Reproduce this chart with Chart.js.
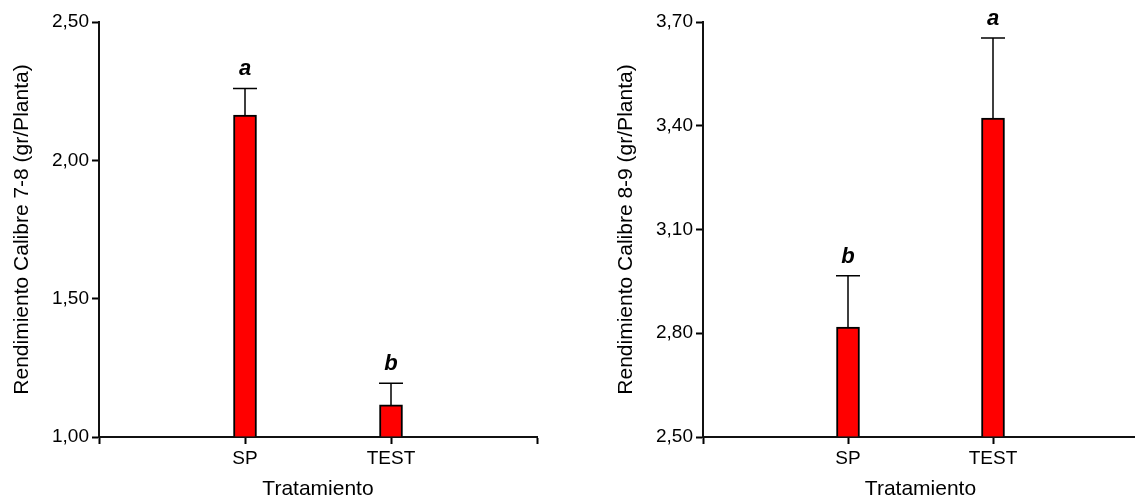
<!DOCTYPE html>
<html lang="es">
<head>
    <meta charset="UTF-8">
    <title>Rendimiento por calibre</title>
    <script src="https://cdn.jsdelivr.net/npm/chart.js"></script>
    <style>
        html, body {
            margin: 0;
            padding: 0;
            background: #fff;
            width: 1135px;
            height: 502px;
            overflow: hidden;
        }
        canvas {
            position: absolute;
            top: 0;
        }
        #chartLeft { left: 0; }
        #chartRight { left: 567px; }
    </style>
</head>
<body>
    <canvas id="chartLeft" width="567" height="502"></canvas>
    <canvas id="chartRight" width="574" height="502"></canvas>

    <script>
        // categories (empty labels at both ends give the axis its length)
        const categories = ["", "SP", "TEST", ""];

        // Calibre 7-8
        const meansLeft = [null, 2.164, 1.116, null];
        const errLeft = [null, 0.096, 0.078, null];
        const lettersLeft = [null, "a", "b", null];
        const ticksLeft = [1.0, 1.5, 2.0, 2.5];

        // Calibre 8-9
        const meansRight = [null, 2.818, 3.422, null];
        const errRight = [null, 0.148, 0.232, null];
        const lettersRight = [null, "b", "a", null];
        const ticksRight = [2.5, 2.8, 3.1, 3.4, 3.7];

        const FONT = "'Liberation Sans', Arial, sans-serif";

        // error bars + significance letters on top of each bar
        const errorBarPlugin = {
            id: "errorBars",
            afterDatasetsDraw(chart, args, opts) {
                const ctx = chart.ctx;
                const xs = chart.scales.x;
                const ys = chart.scales.y;
                ctx.save();
                opts.means.forEach((m, i) => {
                    if (m === null) return;
                    const x = xs.getPixelForValue(i);
                    const yBar = ys.getPixelForValue(m);
                    const yTop = ys.getPixelForValue(m + opts.err[i]);
                    ctx.strokeStyle = "#000";
                    ctx.lineWidth = 1.5;
                    ctx.beginPath();
                    ctx.moveTo(x, yBar);
                    ctx.lineTo(x, yTop);
                    ctx.moveTo(x - 12, yTop);
                    ctx.lineTo(x + 12, yTop);
                    ctx.stroke();

                    ctx.fillStyle = "#000";
                    ctx.font = "italic bold 22px " + FONT;
                    ctx.textAlign = "center";
                    ctx.textBaseline = "alphabetic";
                    ctx.fillText(opts.letters[i], x, yTop - 13);
                });
                ctx.restore();
            }
        };

        function makeChart(id, means, err, letters, yTicks, yTitle, padLeft, padRight) {
            const ctx = document.getElementById(id).getContext("2d");
            return new Chart(ctx, {
                type: "bar",
                data: {
                    labels: categories,
                    datasets: [{
                        data: means,
                        base: yTicks[0],
                        backgroundColor: "#ff0000",
                        borderColor: "#000",
                        borderWidth: 2,
                        barThickness: 23
                    }]
                },
                options: {
                    responsive: false,
                    animation: false,
                    layout: { padding: { top: 22, right: padRight, left: padLeft, bottom: 0 } },
                    plugins: {
                        legend: { display: false },
                        tooltip: { enabled: false },
                        errorBars: { means: means, err: err, letters: letters }
                    },
                    scales: {
                        x: {
                            offset: false,
                            afterFit(scale) { scale.height = 65; },
                            grid: {
                                offset: false,
                                drawOnChartArea: false,
                                drawTicks: true,
                                tickLength: 7,
                                tickColor: "#000",
                                tickWidth: 2
                            },
                            border: { display: true, color: "#111", width: 2 },
                            ticks: {
                                color: "#000",
                                font: { family: FONT, size: 19 },
                                padding: 3,
                                maxRotation: 0,
                                autoSkip: false
                            },
                            title: {
                                display: true,
                                text: "Tratamiento",
                                color: "#000",
                                font: { family: FONT, size: 21 },
                                padding: { top: 0, bottom: 0 }
                            }
                        },
                        y: {
                            min: yTicks[0],
                            max: yTicks[yTicks.length - 1],
                            afterFit(scale) { scale.width = 99; },
                            afterBuildTicks(scale) {
                                scale.ticks = yTicks.map(v => ({ value: v }));
                            },
                            grid: {
                                drawOnChartArea: false,
                                drawTicks: true,
                                tickLength: 7,
                                tickColor: "#000",
                                tickWidth: 2
                            },
                            border: { display: true, color: "#111", width: 2 },
                            ticks: {
                                color: "#000",
                                font: { family: FONT, size: 19 },
                                padding: 3,
                                callback: v => v.toFixed(2).replace(".", ",")
                            },
                            title: {
                                display: true,
                                text: yTitle,
                                color: "#000",
                                font: { family: FONT, size: 21 },
                                padding: { top: 10, bottom: 0 }
                            }
                        }
                    }
                },
                plugins: [errorBarPlugin]
            });
        }

        makeChart("chartLeft", meansLeft, errLeft, lettersLeft, ticksLeft,
            "Rendimiento Calibre 7-8 (gr/Planta)", 0, 30);
        makeChart("chartRight", meansRight, errRight, lettersRight, ticksRight,
            "Rendimiento Calibre 8-9 (gr/Planta)", 37, 1.5);
    </script>
</body>
</html>
